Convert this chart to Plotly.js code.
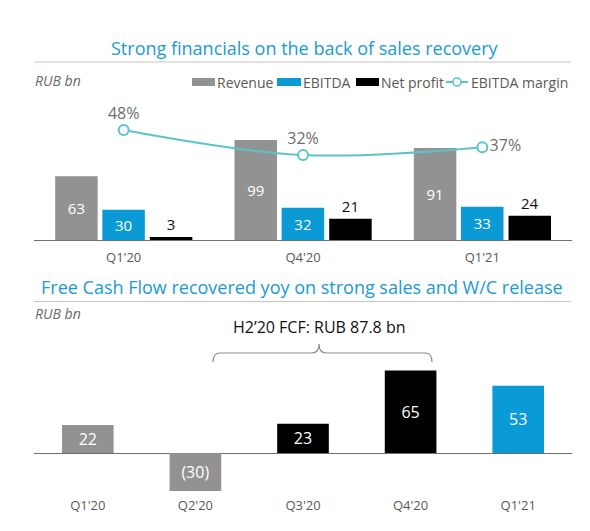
<!DOCTYPE html>
<html><head><meta charset="utf-8">
<script src="https://cdn.plot.ly/plotly-3.0.1.min.js"></script>
<style>html,body{margin:0;padding:0;background:#fff;}#chart{width:590px;height:531px;}</style>
</head><body><div id="chart"></div>
<script>
// ---- data ----
const quarters = ["Q1'20", "Q4'20", "Q1'21"];
const revenue = [63, 99, 91];
const ebitda = [30, 32, 33];
const netProfit = [3, 21, 24];
const ebitdaMargin = [48, 32, 37];
const marginLabels = ["48%", "32%", "37%"];
const fcfQuarters = ["Q1'20", "Q2'20", "Q3'20", "Q4'20", "Q1'21"];
const fcf = [22, -30, 23, 65, 53];
const fcfLabels = ["22", "(30)", "23", "65", "53"];
const seriesNames = ["Revenue", "EBITDA", "Net profit", "EBITDA margin"];

// ---- styling helpers ----
const W = 590, H = 531;
const px = x => x / W, py = y => 1 - y / H;
const GRAY = '#929292', BLUE = '#0a9ad5', BLACK = '#000000', TEAL = '#5cc4c8';
const TXT = '#595959', TITLE = '#1a9ad6';
const FONT = '"Open Sans", sans-serif';
const fcfColors = [GRAY, GRAY, BLACK, BLACK, BLUE];

const topScale = 1.01, botScale = 1.27;
const topBase = 240, topTop = 100;
const botBase = 453, botTop = 360, botBottom = 496;

const barTxt = {family: FONT, size: 15, color: '#ffffff'};

const traces = [
  {type: 'bar', name: seriesNames[0], x: quarters, y: revenue, xaxis: 'x', yaxis: 'y',
   marker: {color: GRAY}, width: 0.237, offset: -0.382,
   text: revenue.map(String), textposition: 'inside', insidetextanchor: 'middle',
   textangle: 0, constraintext: 'none', textfont: barTxt, showlegend: false, hoverinfo: 'x+y'},
  {type: 'bar', name: seriesNames[1], x: quarters, y: ebitda, xaxis: 'x', yaxis: 'y',
   marker: {color: BLUE}, width: 0.237, offset: -0.119,
   text: ebitda.map(String), textposition: 'inside', insidetextanchor: 'middle',
   textangle: 0, constraintext: 'none', textfont: barTxt, showlegend: false, hoverinfo: 'x+y'},
  {type: 'bar', name: seriesNames[2], x: quarters, y: netProfit, xaxis: 'x', yaxis: 'y',
   marker: {color: BLACK}, width: 0.237, offset: 0.146,
   text: netProfit.map(String), textposition: 'outside', cliponaxis: false,
   textangle: 0, constraintext: 'none', textfont: {family: FONT, size: 15, color: '#111'},
   showlegend: false, hoverinfo: 'x+y'},
  {type: 'scatter', name: seriesNames[3], x: quarters, y: ebitdaMargin, xaxis: 'x', yaxis: 'y3',
   mode: 'lines+markers+text', line: {color: TEAL, width: 2, shape: 'spline', smoothing: 1},
   marker: {color: '#ffffff', size: 10, line: {color: TEAL, width: 2}},
   text: marginLabels, textposition: ['top center', 'top center', 'middle right'],
   textfont: {family: FONT, size: 16, color: '#6e6e6e'}, cliponaxis: false, showlegend: false},
  {type: 'bar', name: 'FCF', x: fcfQuarters, y: fcf, xaxis: 'x2', yaxis: 'y2',
   marker: {color: fcfColors}, width: 0.48,
   text: fcfLabels, textposition: 'inside', insidetextanchor: 'middle', textangle: 0,
   constraintext: 'none', textfont: {family: FONT, size: 16, color: '#ffffff'},
   showlegend: false, hoverinfo: 'x+y'}
];

// brace path in paper coords
function P(x, y) { return px(x).toFixed(5) + ',' + py(y).toFixed(5); }
const bL = 213, bR = 432, bM = 319, bY = 353, bEnd = 362, bTip = 344, r = 7;
const bracePath = 'M' + P(bL, bEnd) + ' Q' + P(bL, bY) + ' ' + P(bL + r, bY) +
  ' L' + P(bM - r, bY) + ' Q' + P(bM, bY) + ' ' + P(bM, bTip) +
  ' Q' + P(bM, bY) + ' ' + P(bM + r, bY) + ' L' + P(bR - r, bY) +
  ' Q' + P(bR, bY) + ' ' + P(bR, bEnd);

const legendItems = [
  {kind: 'rect', x0: 192, x1: 215, color: GRAY, tx: 217, label: seriesNames[0]},
  {kind: 'rect', x0: 277, x1: 301, color: BLUE, tx: 303, label: seriesNames[1]},
  {kind: 'rect', x0: 356, x1: 379, color: BLACK, tx: 381, label: seriesNames[2]},
  {kind: 'line', x0: 446, x1: 468, color: TEAL, tx: 471, label: seriesNames[3]}
];
const legY = 82;

const shapes = [
  {type: 'line', xref: 'paper', yref: 'paper', x0: px(34), x1: px(571), y0: py(62), y1: py(62), line: {color: '#c4c4c4', width: 1}},
  {type: 'line', xref: 'paper', yref: 'paper', x0: px(34), x1: px(571), y0: py(301.5), y1: py(301.5), line: {color: '#c4c4c4', width: 1}},
  {type: 'path', xref: 'paper', yref: 'paper', path: bracePath, line: {color: '#8a8a8a', width: 1.2}}
];
const annotations = [
  {text: 'Strong financials on the back of sales recovery', x: px(305), y: py(48), xref: 'paper', yref: 'paper', showarrow: false, xanchor: 'center', yanchor: 'middle', font: {family: FONT, size: 18, color: TITLE}},
  {text: 'Free Cash Flow recovered yoy on strong sales and W/C release', x: px(302), y: py(287), xref: 'paper', yref: 'paper', showarrow: false, xanchor: 'center', yanchor: 'middle', font: {family: FONT, size: 18, color: TITLE}},
  {text: '<i>RUB bn</i>', x: px(33), y: py(80), xref: 'paper', yref: 'paper', showarrow: false, xanchor: 'left', yanchor: 'middle', font: {family: FONT, size: 14, color: '#6a6a6a'}},
  {text: '<i>RUB bn</i>', x: px(33), y: py(313), xref: 'paper', yref: 'paper', showarrow: false, xanchor: 'left', yanchor: 'middle', font: {family: FONT, size: 14, color: '#6a6a6a'}},
  {text: "H2’20 FCF: RUB 87.8 bn", x: px(319), y: py(327), xref: 'paper', yref: 'paper', showarrow: false, xanchor: 'center', yanchor: 'middle', font: {family: FONT, size: 16, color: '#111'}}
];
legendItems.forEach(it => {
  if (it.kind === 'rect') {
    shapes.push({type: 'rect', xref: 'paper', yref: 'paper', x0: px(it.x0), x1: px(it.x1), y0: py(legY - 4), y1: py(legY + 4), fillcolor: it.color, line: {width: 0}});
  } else {
    shapes.push({type: 'line', xref: 'paper', yref: 'paper', x0: px(it.x0), x1: px(it.x1), y0: py(legY), y1: py(legY), line: {color: it.color, width: 2}});
    const cx = (it.x0 + it.x1) / 2;
    shapes.push({type: 'circle', xref: 'paper', yref: 'paper', x0: px(cx - 4), x1: px(cx + 4), y0: py(legY + 4), y1: py(legY - 4), fillcolor: '#fff', line: {color: it.color, width: 1.6}});
  }
  annotations.push({text: it.label, x: px(it.tx), y: py(legY), xref: 'paper', yref: 'paper', showarrow: false, xanchor: 'left', yanchor: 'middle', xshift: -2, font: {family: FONT, size: 14, color: TXT}});
});

const layout = {
  width: W, height: H, margin: {l: 0, r: 0, t: 0, b: 0},
  paper_bgcolor: '#fff', plot_bgcolor: 'rgba(0,0,0,0)',
  barmode: 'overlay', showlegend: false,
  font: {family: FONT, color: TXT},
  xaxis: {domain: [px(34), px(572)], anchor: 'y', type: 'category', showgrid: false, zeroline: false,
    showline: true, linecolor: '#6f6f6f', linewidth: 1, ticks: 'outside', ticklen: 5, tickcolor: 'rgba(0,0,0,0)',
    tickfont: {family: FONT, size: 13, color: TXT}, fixedrange: true},
  yaxis: {domain: [py(topBase), py(topTop)], range: [0, (topBase - topTop) / topScale], visible: false, fixedrange: true},
  yaxis3: {overlaying: 'y', range: [32 - (topBase - 155) / 1.5625, 32 + (155 - topTop) / 1.5625], visible: false, fixedrange: true},
  xaxis2: {domain: [px(34), px(572)], anchor: 'y2', type: 'category', showgrid: false, zeroline: false, showline: false,
    ticks: '', tickfont: {family: FONT, size: 13, color: TXT}, fixedrange: true},
  yaxis2: {domain: [py(botBottom), py(botTop)], range: [-(botBottom - botBase) / botScale, (botBase - botTop) / botScale],
    showgrid: false, zeroline: true, zerolinecolor: '#6f6f6f', zerolinewidth: 1, showticklabels: false, fixedrange: true},
  shapes: shapes, annotations: annotations
};

Plotly.newPlot('chart', traces, layout, {displayModeBar: false, staticPlot: true});
</script>
</body></html>
